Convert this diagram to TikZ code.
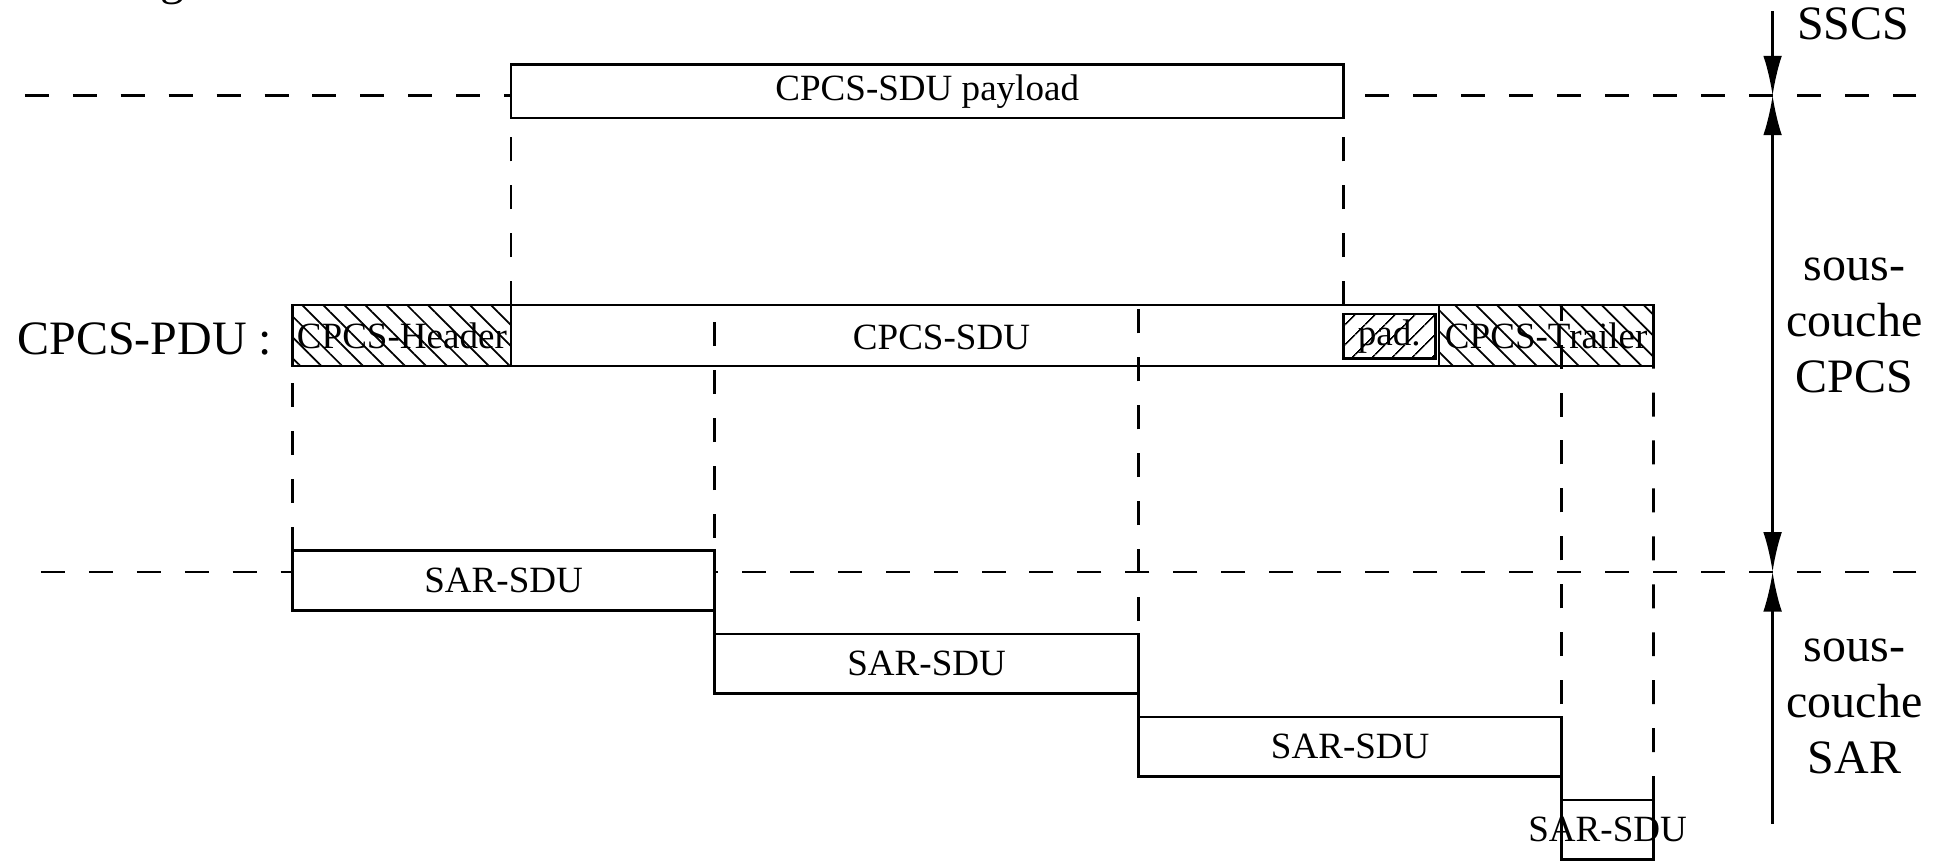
\documentclass[tikz,border=0pt]{standalone}
\usepackage{fontspec}
\setmainfont{Liberation Serif}
\usetikzlibrary{arrows.meta,fit,patterns.meta}

\tikzset{
    bloc/.style={draw, line width=1.2pt, inner sep=0pt, outer sep=0pt},
    hachA/.style={pattern={Lines[angle=-45,distance=6.8pt,line width=0.8pt]}},
    hachB/.style={pattern={Lines[angle=45,distance=6.4pt,line width=0.8pt]}},
    tirets/.style={line width=1.2pt, dash pattern=on 11pt off 11pt},
    fleche/.style={line width=1.1pt, -{Latex[length=0.64cm,width=0.3cm]}},
    petit/.style={font=\fontsize{17}{20}\selectfont},
    grand/.style={font=\fontsize{22}{25.8}\selectfont, align=center},
}

\begin{document}
\begin{tikzpicture}[x=0.02cm, y=-0.02cm]
        \useasboundingbox (0,0) rectangle (1568,695);

        % Fragment de la ligne du dessus
        \node[grand, anchor=base] (fig) at (139,-4.5) {g};

        % CPCS-SDU payload
        \node[bloc, fit={(412,52) (1083,95)}, label={[petit]center:CPCS-SDU payload}] (payload) {};

        % CPCS-PDU
        \node[grand, anchor=base west] (pdulbl) at (8,285.5) {CPCS-PDU :};
        \node[bloc, fit={(236,246) (1333,295)}] (pdu) {};
        \node[bloc, hachA, fit={(236,246) (412,295)}, label={[petit]center:CPCS-Header}] (header) {};
        \node[petit] (sdu) at (759,272) {CPCS-SDU};
        \node[bloc, hachB, fit={(1083,253) (1157,289)}, label={[petit]center:pad.}] (pad) {};
        \node[bloc, hachA, fit={(1160,246) (1333,295)}, label={[petit]center:CPCS-Trailer}] (trailer) {};

        % SAR-SDU
        \foreach \i/\xa/\xb/\ya in {1/236/576/444, 2/576/918/511, 3/918/1259/578, 4/1259/1333/645} {
                \node[bloc, fit={(\xa,\ya) (\xb,\ya+48)}, label={[petit]center:SAR-SDU}] (sar\i) {};
            }

        % Limites des sous-couches
        \coordinate (g1) at (20,77);
        \coordinate (d1) at (1545,77);
        \coordinate (g2) at (33,461);
        \coordinate (d2) at (1545,461);
        \draw[tirets] (g1) -- (g1 -| payload.west);
        \draw[tirets] (d1) -- (d1 -| payload.east);
        \draw[tirets] (g2) -- (g2 -| sar1.west);
        \draw[tirets] (d2) -- (d2 -| sar1.east);

        % Decoupage
        \draw[tirets] (header.north east) -- (payload.south west);
        \draw[tirets] (payload.south east |- pdu.north) -- (payload.south east);
        \draw[tirets] (sar1.north west) -- (header.south west);
        \draw[tirets] (sar2.north west) -- (sar2.north west |- pdu.north);
        \draw[tirets] (sar3.north west) -- (sar3.north west |- pdu.north);
        \draw[tirets] (sar4.north west) -- (sar4.north west |- pdu.north);
        \draw[tirets] (sar4.north east) -- (pdu.south east);

        % Fleches
        \coordinate (haut) at (1429,9);
        \coordinate (lim1) at (1429,77);
        \coordinate (lim2) at (1429,461);
        \coordinate (bas) at (1429,664);
        \draw[fleche] (haut) -- (lim1);
        \draw[fleche, {Latex[length=0.64cm,width=0.3cm]}-{Latex[length=0.64cm,width=0.3cm]}] (lim1) -- (lim2);
        \draw[fleche] (bas) -- (lim2);

        % Noms des couches
        \node[grand, anchor=base] (sscs) at (1494,31.5) {SSCS};
        \node[grand] (cpcs) at (1495,262.5) {sous-\\couche\\CPCS};
        \node[grand] (sar) at (1495,569.5) {sous-\\couche\\SAR};
    \end{tikzpicture}
\end{document}
